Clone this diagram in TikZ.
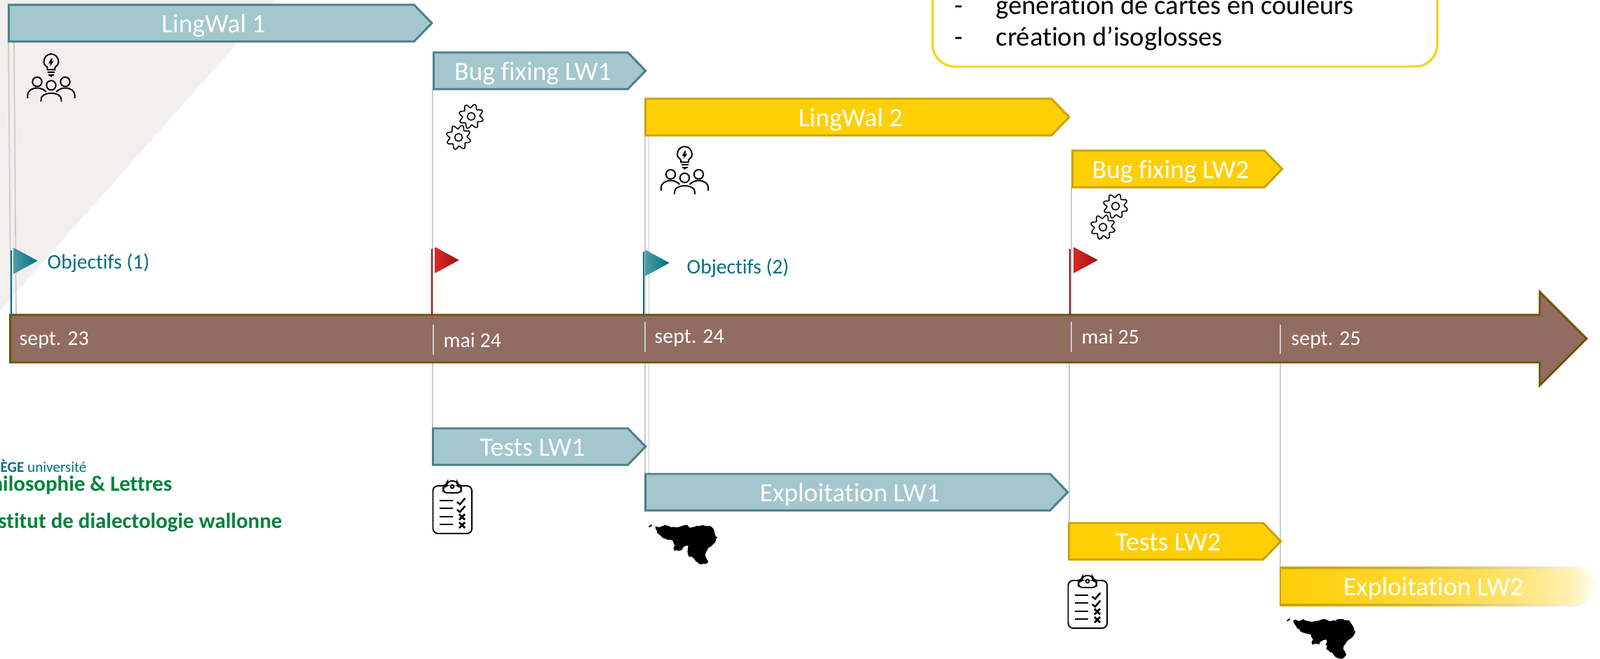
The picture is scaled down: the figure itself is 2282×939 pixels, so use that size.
\documentclass[tikz,border=0pt]{standalone}
\usepackage{fontspec}
\setmainfont{Carlito}[Ligatures=NoCommon]
\usetikzlibrary{shapes.geometric, shapes.symbols, shapes.arrows, decorations.pathmorphing}

\definecolor{bgrey}{HTML}{F2EFEE}
\definecolor{lwblue}{HTML}{A3C7CC}
\definecolor{lwblueb}{HTML}{4F7F88}
\definecolor{lwyellow}{HTML}{FFCF06}
\definecolor{lwyellowb}{HTML}{C9A400}
\definecolor{axisbrown}{HTML}{906C61}
\definecolor{axisb}{HTML}{6B5500}
\definecolor{guidegrey}{HTML}{CCCCCC}
\definecolor{tealflag}{HTML}{00707F}
\definecolor{redflag}{HTML}{A00E0E}
\definecolor{redlight}{HTML}{D82A2A}
\definecolor{ulggreen}{HTML}{00823C}

\pgfdeclarehorizontalshading{lwfade}{100bp}{color(0bp)=(lwyellow); color(25bp)=(lwyellow); color(40bp)=(lwyellow!88!white); color(56bp)=(lwyellow!68!white); color(64bp)=(lwyellow!50!white); color(71bp)=(lwyellow!28!white); color(75bp)=(white); color(100bp)=(white)}
\pgfdeclarehorizontalshading{lwedge}{100bp}{color(0bp)=(lwyellowb); color(25bp)=(lwyellowb); color(50bp)=(lwyellowb!75!white); color(65bp)=(lwyellowb!40!white); color(75bp)=(lwyellowb!10!white); color(100bp)=(white)}

\begin{document}
\begin{tikzpicture}[x=0.01cm, y=-0.01cm]
\tikzstyle{lwbox} = [signal, signal to=east, signal from=nowhere, signal pointer angle=92, anchor=west, minimum height=0.52cm, inner sep=0pt, line width=0.85pt, text=white, font=\fontsize{10.7}{12}\selectfont, text height=0.78em, text depth=0pt, execute at begin node={\hspace*{1.7pt}}]
\tikzstyle{lwone} = [lwbox, fill=lwblue, draw=lwblueb]
\tikzstyle{lwtwo} = [lwbox, fill=lwyellow, draw=lwyellowb]
\tikzstyle{guide} = [guidegrey, line width=0.5pt]
\tikzstyle{tick} = [guidegrey, line width=0.5pt]
\tikzstyle{datelabel} = [anchor=west, inner sep=0pt, text=white, font=\fontsize{8.5}{10}\selectfont]
\tikzstyle{flag} = [isosceles triangle, isosceles triangle stretches, shape border rotate=0, anchor=lower side, minimum height=0.34cm, minimum width=0.37cm, inner sep=0pt]
\tikzstyle{tealtri} = [flag, left color=tealflag!70!white, right color=tealflag]
\tikzstyle{redtri} = [flag, left color=redlight, right color=redflag]
\tikzstyle{objlabel} = [anchor=west, inner sep=0pt, text=tealflag, font=\fontsize{8.4}{10}\selectfont]
\tikzstyle{logotext} = [anchor=east, inner sep=0pt, text=ulggreen, font=\fontsize{8.8}{10}\selectfont\bfseries]
\tikzstyle{listline} = [anchor=base west, inner sep=0pt, font=\fontsize{10.95}{12}\selectfont]

\tikzset{
  idea/.pic={
    \draw[line width=0.55pt] (-5.5,23.3) -- (-5.5,21) .. controls (-5.5,18) and (-10.5,18) .. (-10.5,12.3) .. controls (-10.5,6) and (-6,1) .. (0,1) .. controls (6,1) and (10.5,6) .. (10.5,12.3) .. controls (10.5,18) and (5.5,18) .. (5.5,21) -- (5.5,23.3) -- cycle;
    \draw[line width=0.55pt] (-5,27.3) -- (5,27.3);
    \draw[line width=0.55pt] (-4,30.7) -- (4,30.7);
    \fill (-2,32) -- (2,32) -- (0,34) -- cycle;
    \fill (-0.3,7.3) -- (-3.7,14.7) -- (-0.7,14.7) -- (-1.7,19) -- (3.7,11.3) -- (0.7,11.3) -- (2,7.3) -- cycle;
    \draw[line width=0.55pt] (0,45.7) circle[radius=6.7];
    \draw[line width=0.55pt] (-20,40.7) circle[radius=6.7];
    \draw[line width=0.55pt] (20,40.7) circle[radius=6.7];
    \draw[line width=0.55pt] (-14.5,69) -- (-14.5,66) .. controls (-14.5,60) and (-8,57) .. (0,57) .. controls (8,57) and (14.5,60) .. (14.5,66) -- (14.5,69);
    \draw[line width=0.55pt] (-33.7,64) -- (-33.7,60) .. controls (-33.7,54) and (-28,49.5) .. (-20,49.5) .. controls (-15,49.5) and (-11,51.5) .. (-7,55);
    \draw[line width=0.55pt] (33.7,64) -- (33.7,60) .. controls (33.7,54) and (28,49.5) .. (20,49.5) .. controls (15,49.5) and (11,51.5) .. (7,55);
  },
  gears/.pic={
    \foreach \sx/\sy in {0/0,-18/30} {
      \begin{scope}[shift={(\sx,\sy)}]
        \draw[line width=0.45pt] plot[domain=0:360, samples=97, smooth] ({18+\x}:{15+2.7*cos(8*\x)}) -- cycle;
        \draw[line width=0.45pt] (0,0) circle[radius=5.5];
      \end{scope}
    }
  },
  checklist/.pic={
    \draw[line width=0.55pt, rounded corners=2pt] (15,7) -- (0.5,7) -- (0.5,75) -- (56,75) -- (56,7) -- (41,7);
    \draw[line width=0.55pt, rounded corners=1.5pt] (15,7) -- (15,17) -- (41,17) -- (41,7) -- (36,7) -- (35,0) -- (21,0) -- (20,7) -- cycle;
    \draw[line width=0.5pt] (28,8) circle[radius=2.5];
    \foreach \i in {28.3,39,50.7,62.3}
      \draw[line width=0.65pt] (9.7,\i) -- (29,\i);
    \foreach \i in {30,41}
      \draw[line width=0.7pt] (34.7,\i) -- (39,\i+3.3) -- (46.3,\i-5.3);
    \foreach \i in {51.3,63} {
      \draw[line width=0.8pt] (38,\i-4) -- (46,\i+4);
      \draw[line width=0.8pt] (46,\i-4) -- (38,\i+4);
    }
  },
  wallonia/.pic={
    \fill (0,3) -- (4,0) -- (5,2) -- (1,4.3) -- cycle;
    \fill[decorate, decoration={random steps, segment length=1pt, amplitude=0.35pt}] (10,2.7) -- (16.7,3.7) -- (23.3,1) -- (31.7,4.3) -- (40,4.3) -- (51.7,1) -- (61.7,4.3) -- (76.7,1) -- (90,3.7) -- (94,10.3) -- (98.3,18.7) -- (91.7,28.7) -- (85,33.7) -- (80.7,43.7) -- (85,52) -- (81.7,56.3) -- (73.3,57) -- (65,48.7) -- (56.7,44.3) -- (56.7,30.3) -- (50,32) -- (46.7,37) -- (36.7,37.7) -- (36.7,28.7) -- (35,23.7) -- (23.3,20.3) -- (15,14.3) -- (11.7,8.7) -- cycle;
  }
}

\useasboundingbox (0,0) rectangle (2282,939);

% background
\fill[bgrey] (0,0) -- (393,0) -- (0,443) -- cycle;

% guide lines
\coordinate (g1a) at (12,59);
\coordinate (g1b) at (15.5,449);
\coordinate (g2a) at (20,59);
\coordinate (g2b) at (23,449);
\coordinate (g3a) at (617,127);
\coordinate (g3b) at (617,449);
\coordinate (g4a) at (617,516);
\coordinate (g4b) at (617,610);
\coordinate (g5a) at (920,193);
\coordinate (g5b) at (920,449);
\coordinate (g6a) at (925.5,193);
\coordinate (g6b) at (925.5,449);
\coordinate (g7a) at (920,516);
\coordinate (g7b) at (920,676);
\coordinate (g8a) at (925.5,516);
\coordinate (g8b) at (925.5,676);
\coordinate (g9a) at (1528,267);
\coordinate (g9b) at (1528,449);
\coordinate (g10a) at (1525,516);
\coordinate (g10b) at (1525,744);
\coordinate (g11a) at (1826,516);
\coordinate (g11b) at (1826,808);
\foreach \i in {1,...,11}
  \draw[guide] (g\i a) -- (g\i b);

% info box
\coordinate (infotl) at (1330,0);
\coordinate (infobl) at (1330,95);
\coordinate (infobr) at (2050,95);
\coordinate (infotr) at (2050,0);
\draw[lwyellow, line width=0.85pt, rounded corners=0.32cm] (infotl) -- (infobl) -- (infobr) -- (infotr);
\node[listline] (dash1) at (1361,20) {-};
\node[listline] (item1) at (1420,20) {génération de cartes en couleurs};
\node[listline] (dash2) at (1361,65) {-};
\node[listline] (item2) at (1420,65) {création d’isoglosses};

% time axis
\node[single arrow, draw=axisb, fill=axisbrown, line width=0.8pt, anchor=west, minimum height=22.47cm, inner xsep=0pt, inner ysep=0.325cm, single arrow head extend=0.33cm, single arrow tip angle=90, shape border rotate=0] (axis) at (13,483) {};
\node[datelabel] (d1) at (27,485) {sept. 23};
\node[datelabel] (d2) at (632,485) {mai 24};
\node[datelabel] (d3) at (933,482) {sept. 24};
\node[datelabel] (d4) at (1542,480) {mai 25};
\node[datelabel] (d5) at (1841,485) {sept. 25};
\draw[tick] (618,463) -- (618,506);
\draw[tick] (920,459) -- (920,502);
\draw[tick] (1528,459) -- (1528,502);
\draw[tick] (1826,463) -- (1826,505);

% flags
\draw[tealflag, line width=0.6pt] (16,357) -- (16,451);
\draw[redflag, line width=0.6pt] (616,355) -- (616,449);
\draw[tealflag, line width=0.6pt] (918,359) -- (918,452);
\draw[redflag, line width=0.6pt] (1526,355) -- (1526,449);
\node[tealtri] (f1) at (19,372) {};
\node[redtri] (f2) at (620,371) {};
\node[tealtri] (f3) at (920,375) {};
\node[redtri] (f4) at (1531,371) {};
\node[objlabel] (o1) at (67,375) {Objectifs (1)};
\node[objlabel] (o2) at (979,382) {Objectifs (2)};

% phases
\node[lwone, minimum width=6.03cm] (lingwal1) at (11,33) {LingWal 1};
\node[lwone, minimum width=3.02cm] (bugfix1) at (617,101) {Bug fixing LW1};
\node[lwtwo, minimum width=6.04cm] (lingwal2) at (919,167) {LingWal 2};
\node[lwtwo, minimum width=2.99cm] (bugfix2) at (1528,241) {Bug fixing LW2};
\node[lwone, minimum width=3.03cm] (tests1) at (616,637) {Tests LW1};
\node[lwone, minimum width=6.02cm] (exploit1) at (919,702) {Exploitation LW1};
\node[lwtwo, minimum width=3.02cm] (tests2) at (1523,772) {Tests LW2};
\node[lwbox, shading=lwfade, draw=none, minimum width=4.55cm] (exploit2) at (1825,836) {Exploitation LW2};
\shade[shading=lwedge] (1825,808) rectangle (2254,811);
\shade[shading=lwedge] (1825,861) rectangle (2254,864);
\fill[lwyellowb] (1825,808) rectangle (1827,864);

% icons
\pic at (73,76) {idea};
\pic at (976.5,208) {idea};
\pic at (672,166) {gears};
\pic at (1591,294) {gears};
\pic at (617,686) {checklist};
\pic at (1523,821) {checklist};
\pic at (925,748) {wallonia};
\pic at (1835,882) {wallonia};

% logo
\node[anchor=west, inner sep=0pt, text=tealflag, font=\fontsize{6}{7}\selectfont] (ulg) at (0,665) {\textbf{ÈGE} université};
\node[logotext] (faculty) at (246,692) {hilosophie \& Lettres};
\node[logotext] (institute) at (403,745) {stitut de dialectologie wallonne};
\end{tikzpicture}
\end{document}
